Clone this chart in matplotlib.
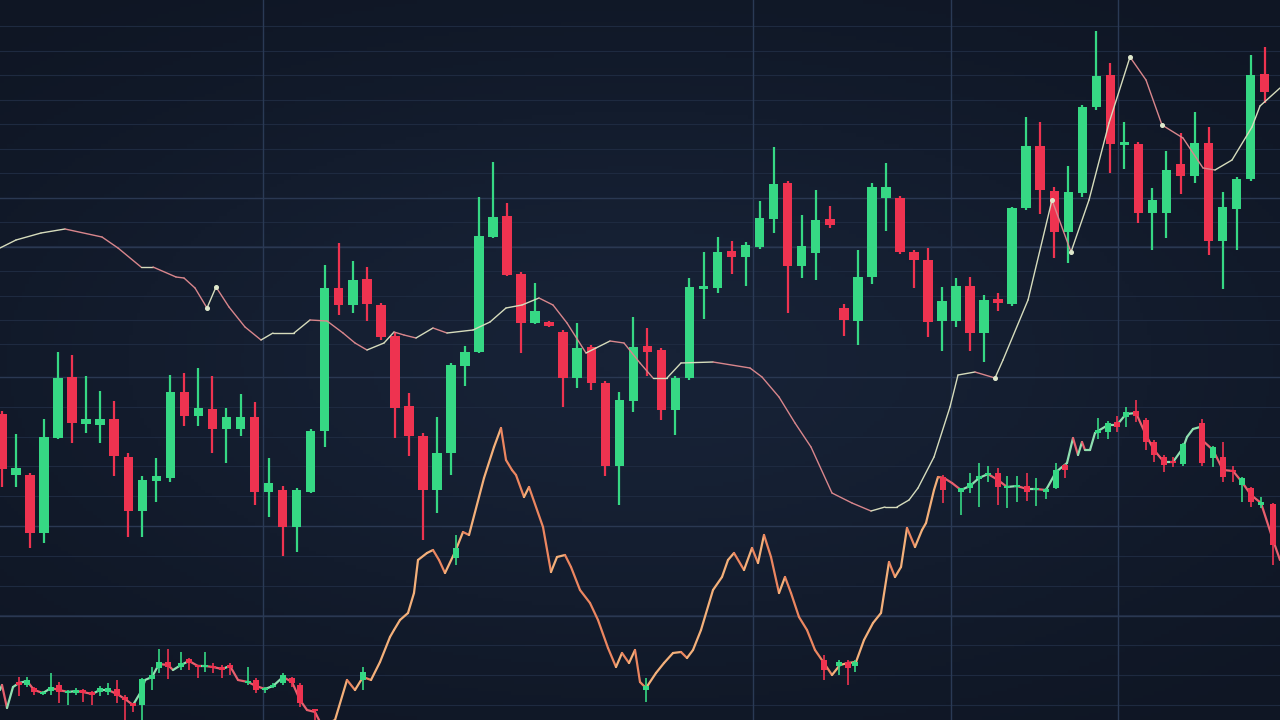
import numpy as np
import matplotlib.pyplot as plt
from matplotlib.collections import LineCollection

# ---- main candles (price units) ----
opens = [61.2, 49.0, 49.0, 37.4, 56.4, 68.6, 59.2, 59.0, 60.2, 52.6,
         41.8, 47.8, 48.4, 65.6, 60.8, 62.2, 58.2, 58.2, 60.6, 45.6,
         46.0, 38.6, 45.6, 57.8, 86.4, 83.0, 88.2, 83.0, 76.8, 62.8,
         56.8, 46.0, 53.4, 70.8, 73.6, 96.6, 100.8, 89.2, 79.4, 79.6,
         77.6, 68.4, 74.6, 67.4, 50.8, 63.8, 74.8, 74.0, 62.0, 68.4,
         86.2, 86.4, 93.8, 92.6, 94.6, 100.2, 107.4, 90.8, 93.4, 100.2,
         82.4, 79.8, 88.6, 104.4, 104.4, 93.6, 92.0, 79.8, 79.8, 86.8,
         77.4, 84.2, 83.2, 102.4, 114.8, 105.8, 97.6, 105.4, 122.6, 129.0,
         115.0, 115.2, 101.4, 101.4, 111.2, 108.8, 115.4, 95.8, 102.2, 108.2,
         129.2]
closes = [50.2, 50.4, 37.4, 56.6, 68.4, 59.4, 60.2, 60.2, 52.8, 41.8,
          48.0, 48.8, 65.6, 60.8, 62.4, 58.2, 60.6, 60.6, 45.6, 47.4,
          38.6, 46.0, 57.8, 86.4, 83.0, 88.0, 83.2, 76.6, 62.4, 56.8,
          46.0, 53.4, 71.0, 73.6, 96.8, 100.6, 89.0, 79.4, 81.8, 78.8,
          68.4, 74.4, 67.4, 50.8, 64.0, 74.6, 73.6, 62.0, 68.4, 86.6,
          86.6, 93.6, 92.6, 95.0, 100.4, 107.2, 90.8, 94.8, 100.0, 99.0,
          80.0, 88.6, 106.6, 106.6, 93.6, 92.0, 79.6, 83.8, 86.8, 77.4,
          84.0, 83.4, 102.4, 114.8, 106.0, 97.6, 105.6, 122.6, 128.8, 115.2,
          115.6, 101.4, 104.0, 110.0, 108.8, 115.4, 95.8, 102.6, 108.2, 129.0,
          125.6]
highs = [61.8, 57.2, 49.4, 60.2, 73.6, 73.0, 68.8, 65.8, 63.8, 53.4,
         48.8, 52.4, 69.0, 69.4, 70.4, 68.8, 62.4, 65.2, 63.6, 52.4,
         46.8, 46.4, 58.2, 91.0, 95.4, 91.8, 90.6, 83.4, 77.4, 65.4,
         57.4, 60.6, 71.4, 74.8, 104.6, 111.6, 103.4, 89.6, 87.4, 79.8,
         78.0, 79.4, 75.0, 67.8, 65.6, 80.6, 78.4, 74.4, 68.8, 88.4,
         93.6, 96.6, 95.8, 95.6, 103.8, 114.6, 107.8, 101.0, 106.0, 102.8,
         83.2, 94.0, 107.4, 111.4, 104.8, 94.0, 94.4, 86.6, 88.4, 88.6,
         85.0, 85.4, 102.6, 120.6, 119.6, 106.6, 110.8, 123.0, 137.8, 131.4,
         119.6, 115.6, 106.4, 113.8, 117.4, 121.6, 118.6, 105.6, 108.6, 133.0,
         134.6]
lows = [46.6, 46.6, 34.4, 35.4, 56.2, 55.4, 57.4, 55.4, 48.8, 36.6,
        36.6, 43.6, 47.6, 58.8, 58.8, 53.4, 51.4, 56.8, 43.0, 40.6,
        32.8, 33.6, 45.4, 54.6, 81.0, 81.4, 79.8, 76.0, 56.4, 52.8,
        36.0, 41.4, 49.0, 66.8, 73.4, 96.4, 88.8, 73.4, 79.2, 78.6,
        62.6, 66.4, 66.0, 48.8, 43.0, 61.6, 68.8, 60.0, 57.0, 68.0,
        80.2, 85.4, 89.2, 86.8, 94.2, 97.4, 81.4, 88.4, 88.0, 98.4,
        76.8, 75.0, 87.2, 97.8, 93.2, 86.4, 76.6, 73.8, 78.6, 73.8,
        71.6, 81.8, 82.8, 102.0, 101.2, 92.4, 91.4, 104.6, 122.0, 109.4,
        110.2, 99.4, 94.0, 96.4, 105.2, 107.4, 93.0, 86.2, 94.0, 107.8,
        123.4]

# ---- slow moving average line ----
ma_t = [0, 3.2, 8.2, 13.0, 20.4, 23.6, 28.2, 30.6, 35.2, 36.8, 39.0, 41.4, 43.2,
        45.8, 49.0, 52.2, 54.6, 58.8, 62.0, 65.4, 68.6, 71.0, 73.4, 76.8, 78.8,
        80.8, 83.2, 86.6, 89.4, 94.6, 98.0, 101.2, 104.4, 107.8, 110.6, 113.4,
        117.2, 119.2, 122.0, 124.8, 128.0, 130.6, 133.4, 136.2, 142.6, 150.0,
        152.4, 155.8, 159.0, 162.2, 166.4, 170.4, 174.2, 177.0, 179.4, 181.8,
        183.6, 186.8, 190.0, 191.6, 195.0, 199.0, 200.6, 205.6, 210.4, 214.2,
        217.8, 221.8, 226.0, 229.2, 232.4, 236.6, 240.6, 243.0, 246.4, 250.4,
        252.0, 256.0]
ma_v = [94.4, 96.0, 97.4, 98.2, 96.6, 94.4, 90.6, 90.6, 88.6, 88.4, 86.4, 82.4, 86.6,
        82.6, 78.6, 76.0, 77.4, 77.4, 80.0, 79.8, 77.4, 75.4, 74.0, 75.4, 77.6,
        77.0, 76.4, 78.4, 77.4, 78.0, 79.6, 82.4, 83.0, 84.4, 83.0, 79.4,
        73.4, 74.4, 75.8, 75.4, 71.4, 68.4, 68.4, 71.4, 71.6, 70.4,
        68.6, 64.6, 59.4, 54.6, 45.4, 43.4, 41.8, 42.6, 42.6, 44.0,
        46.4, 52.6, 62.6, 69.0, 69.6, 68.4, 72.0, 84.0, 104.0, 93.6,
        104.0, 119.4, 132.6, 128.0, 119.0, 116.4, 110.4, 110.0, 112.0, 118.6,
        122.8, 126.4]
ma_dots = [11, 12, 61, 64, 65, 68, 70]

# ---- lower price path ----
sub_t = [0, 0.4, 1.4, 2.6, 3.8, 5.4, 6.8, 8.6, 10.2, 11.8, 13.6, 15.2, 16.6, 18.4,
         20.0, 21.6, 23.4, 25.0, 26.6, 28.4, 29.0, 30.4, 31.8, 33.6, 34.6, 36.2,
         37.8, 39.6, 41.0, 42.6, 44.4, 46.0, 47.6, 49.6, 51.2, 53.0, 54.6, 56.6,
         58.4, 60.0, 61.4, 63.0, 64.4,
         67.0, 69.4, 71.0, 72.6, 74.2, 76.0, 78.0, 78.8, 80.0, 81.6, 82.8, 83.6,
         85.4, 86.6, 87.8, 89.0, 91.0, 92.6, 93.8, 96.8, 98.8, 100.2, 101.2,
         102.4, 103.2, 104.8, 105.8, 108.6, 110.2, 111.4, 113.0, 114.2, 116.0,
         118.0, 119.6, 121.6, 123.2, 124.4, 125.8, 127.0, 128.0, 129.2, 131.2,
         132.8, 134.6, 136.2, 137.4, 138.6, 140.2, 142.6, 144.4, 145.6, 146.8,
         148.8, 150.4, 151.6, 152.8, 154.2, 155.8, 157.0, 158.2, 159.8, 161.4,
         163.0, 164.8, 166.4, 168.0, 169.6, 171.2, 172.8, 174.6, 176.2, 177.8,
         179.0, 180.2, 181.4, 183.0, 184.4, 185.2, 186.8, 187.6, 188.8,
         190.4, 192.2, 194.0, 195.8, 197.6, 199.6, 201.4, 203.4, 205.4, 207.2,
         209.2, 211.2, 213.4, 214.6, 215.6, 216.4, 217.0, 218.0, 219.0, 219.6,
         221.6, 223.4, 225.2, 227.2, 229.2, 230.8, 232.8, 234.6, 236.6, 237.4,
         238.6, 240.0, 240.4, 242.6, 244.6, 246.6, 248.4, 250.2, 252.2, 254.6,
         256.0]
sub_v = [6.0, 7.0, 2.4, 6.6, 7.4, 7.8, 6.0, 5.4, 6.4, 6.0, 5.6, 5.8, 5.6, 5.2,
         6.0, 6.0, 5.2, 4.2, 3.0, 6.0, 8.0, 8.6, 11.2, 11.0, 10.0, 11.0,
         11.8, 10.8, 10.8, 10.6, 10.2, 10.8, 8.0, 7.6, 6.8, 6.2, 6.8, 8.6,
         7.6, 4.0, 2.0, 1.6, -1.2,
         0.0, 8.0, 6.0, 8.6, 8.0, 11.6, 16.6, 18.0, 20.0, 21.4, 25.4, 32.0,
         33.4, 34.0, 32.0, 29.4, 33.6, 37.6, 37.0, 48.4, 54.6, 58.4, 52.0,
         50.0, 49.0, 44.6, 46.6, 38.6, 29.6, 32.6, 33.0, 30.6, 26.0,
         23.4, 20.0, 14.4, 10.6, 13.4, 11.4, 14.0, 7.6, 6.4, 9.4,
         11.4, 13.4, 13.6, 12.4, 14.0, 18.0, 26.0, 28.6, 32.0, 33.4,
         30.0, 34.4, 31.4, 37.0, 32.6, 25.4, 28.6, 25.4, 20.6, 18.0,
         14.0, 11.4, 9.0, 11.0, 11.4, 11.6, 16.0, 19.4, 21.4, 31.6,
         28.6, 30.6, 38.4, 34.6, 38.0, 39.4, 46.0, 48.6, 48.4,
         47.4, 46.0, 46.8, 48.4, 49.2, 48.0, 46.6, 46.8, 46.2, 46.2,
         46.0, 49.6, 51.4, 56.4, 53.0, 55.6, 54.0, 54.0, 57.4, 57.8,
         59.0, 59.0, 61.2, 61.4, 57.0, 54.0, 51.6, 51.6, 54.4, 56.6,
         58.2, 58.6, 56.0, 54.0, 50.0, 49.8, 47.6, 45.0, 43.4, 36.0,
         32.0]

# ---- small candles on the lower path ----
sc_t = [3.8, 5.4, 6.8, 8.6, 10.2, 11.8, 13.6, 15.2, 16.6, 18.4, 20.0, 21.6, 23.4,
        25.0, 26.6, 28.4, 30.4, 31.8, 33.6, 36.2, 37.8, 39.6, 41.0, 42.6, 44.4,
        46.0, 49.6, 51.2, 53.0, 54.6, 56.6, 58.4, 60.0, 63.0,
        72.6, 91.2, 129.2, 164.8, 167.8, 169.6, 171.0,
        188.6, 192.2, 194.0, 195.8, 197.6, 199.6, 201.4, 203.4, 205.4, 207.2,
        209.2, 211.2, 213.0, 219.6, 221.6, 223.4, 225.2, 227.2, 229.2, 230.8,
        232.8, 234.6, 236.6, 240.4, 242.6, 244.6, 246.6, 248.4, 250.2, 252.2,
        254.6]
sc_o = [7.6, 7.0, 6.4, 5.2, 5.8, 7.0, 5.4, 5.4, 6.0, 5.6, 5.6, 5.6, 6.2,
        4.6, 3.4, 3.0, 8.2, 10.4, 11.6, 10.6, 12.2, 11.0, 10.6, 10.8, 10.6,
        11.0, 7.4, 8.0, 6.0, 6.6, 7.4, 8.4, 7.0, 2.2,
        8.0, 32.4, 6.0, 12.0, 10.8, 11.6, 10.8,
        48.6, 45.6, 46.4, 48.2, 49.0, 49.4, 46.4, 46.6, 46.8, 46.0,
        45.6, 46.4, 51.0, 57.4, 57.6, 59.6, 60.6, 61.8, 60.0, 55.6,
        52.6, 51.8, 51.2, 59.4, 52.4, 52.6, 50.0, 47.0, 46.4, 43.0,
        43.2]
sc_c = [7.0, 8.0, 5.6, 5.6, 6.6, 5.6, 5.8, 6.0, 5.4, 5.0, 6.4, 6.4, 4.8,
        4.0, 2.8, 8.2, 9.0, 11.6, 10.6, 11.4, 11.4, 10.6, 11.0, 10.4, 10.0,
        10.4, 7.8, 6.0, 6.4, 7.0, 9.0, 7.4, 3.4, 1.8,
        9.6, 34.4, 6.8, 10.0, 11.6, 10.4, 11.6,
        46.0, 46.4, 47.4, 48.8, 49.4, 46.6, 46.8, 47.0, 45.6, 46.4,
        46.2, 50.0, 50.0, 58.0, 59.4, 58.6, 61.6, 60.8, 55.6, 53.0,
        51.0, 51.4, 55.2, 51.4, 54.6, 48.6, 49.6, 48.4, 43.6, 43.6,
        35.0]
sc_h = [8.6, 8.6, 6.6, 5.8, 9.4, 7.6, 6.0, 6.4, 6.2, 5.8, 6.8, 7.4, 8.0,
        5.0, 3.4, 8.4, 10.6, 14.2, 14.2, 13.6, 12.4, 11.0, 13.6, 11.4, 11.0,
        11.4, 10.6, 8.4, 6.6, 7.4, 9.4, 8.6, 7.4, 2.2,
        10.6, 37.0, 8.4, 13.0, 12.0, 12.0, 12.0,
        49.0, 46.4, 49.4, 51.4, 50.8, 50.4, 48.8, 48.8, 49.4, 48.4,
        46.4, 51.4, 51.2, 60.4, 59.8, 60.8, 62.6, 64.0, 60.4, 56.0,
        53.0, 52.6, 55.4, 60.2, 54.8, 55.6, 50.8, 48.6, 46.6, 44.6,
        43.4]
sc_l = [4.8, 6.6, 5.0, 5.0, 5.0, 3.4, 3.0, 5.0, 3.6, 3.0, 4.8, 5.0, 3.4,
        0.0, 1.6, 0.0, 6.0, 9.4, 8.2, 10.0, 10.0, 8.4, 9.6, 9.4, 8.4,
        9.0, 7.0, 5.4, 5.4, 6.4, 7.0, 6.6, 2.6, 0.0,
        6.0, 31.0, 3.6, 8.0, 9.0, 7.0, 9.6,
        43.4, 41.0, 45.4, 42.6, 47.6, 43.0, 42.4, 43.6, 43.8, 42.8,
        44.2, 46.2, 48.4, 56.2, 56.2, 57.6, 58.6, 59.6, 54.0, 51.6,
        49.6, 50.6, 50.8, 50.8, 50.6, 47.6, 47.6, 43.6, 42.6, 42.4,
        31.0]

# ---- grid levels ----
h_grid = np.concatenate([138.8 - 4.9 * np.arange(14), 68.6 - 5.96 * np.arange(12)])
h_major = [104.5, 94.7, 68.6, 38.8, 20.9]
v_grid = [52.6, 150.6, 190.2, 223.6]

BG = "#131b2c"
GREEN = "#36d884"
RED = "#ee3350"

fig = plt.figure(figsize=(12.8, 7.2), dpi=100, facecolor=BG)

# soft vignette behind the chart
bg_ax = fig.add_axes([0, 0, 1, 1])
bg_ax.axis("off")
yy, xx = np.mgrid[-1:1:200j, -1:1:356j]
glow = np.exp(-(xx ** 2 * 0.9 + yy ** 2 * 1.2))
bg_ax.imshow(glow, cmap=plt.matplotlib.colors.LinearSegmentedColormap.from_list(
    "bg", ["#0f1624", "#172236"]), aspect="auto", extent=(0, 1, 0, 1))

ax = fig.add_axes([0, 0, 1, 1])
ax.patch.set_alpha(0)
ax.set_xlim(0, 256)
ax.set_ylim(0, 144)
ax.axis("off")

for y in h_grid:
    ax.axhline(y, color="#1e2a40", lw=0.8, zorder=0)
for y in h_major:
    ax.axhline(y, color="#2a3852", lw=1.0, zorder=0)
for x in v_grid:
    ax.axvline(x, color="#2a3a55", lw=1.0, zorder=0)

# main candles
o = np.array(opens)
c = np.array(closes)
h = np.array(highs)
lo = np.array(lows)
t = 0.4 + 2.806 * np.arange(len(o))
col = np.where(c >= o, GREEN, RED)
ax.vlines(t, lo, h, colors=col, lw=1.6, zorder=2)
ax.bar(t, np.maximum(np.abs(c - o), 0.7), bottom=np.minimum(o, c), width=1.9,
       color=col, zorder=2, linewidth=0)


def colored_line(xs, ys, up, down, lw, z):
    pts = np.column_stack([xs, ys])
    segs = np.stack([pts[:-1], pts[1:]], axis=1)
    cols = [up if b[1] >= a[1] else down for a, b in segs]
    ax.add_collection(LineCollection(segs, colors=cols, linewidths=lw, zorder=z,
                                     capstyle="round", joinstyle="round"))


# moving average
colored_line(ma_t, ma_v, "#d6dcbc", "#d9868c", 1.0, 3)
ax.plot(np.array(ma_t)[ma_dots], np.array(ma_v)[ma_dots], "o", ms=2.6,
        color="#dfe8cc", zorder=4)

# lower path: orange in the middle, red/green at the ends
st = np.array(sub_t)
sv = np.array(sub_v)
pts = np.column_stack([st, sv])
segs = np.stack([pts[:-1], pts[1:]], axis=1)
cols = []
for a, b in segs:
    if 64.4 <= a[0] < 188.8:
        cols.append("#f4b07a" if b[1] >= a[1] else "#ec8660")
    else:
        cols.append("#8fe0b0" if b[1] >= a[1] else "#e8606e")
ax.add_collection(LineCollection(segs, colors=cols, linewidths=1.6, zorder=3,
                                 capstyle="round", joinstyle="round"))

# small candles
so = np.array(sc_o)
sc = np.array(sc_c)
scol = np.where(sc >= so, GREEN, RED)
ax.vlines(sc_t, sc_l, sc_h, colors=scol, lw=1.2, zorder=4)
ax.bar(sc_t, np.maximum(np.abs(sc - so), 0.5), bottom=np.minimum(so, sc), width=1.1,
       color=scol, zorder=4, linewidth=0)

fig.savefig("out.png", dpi=100, facecolor=BG)
